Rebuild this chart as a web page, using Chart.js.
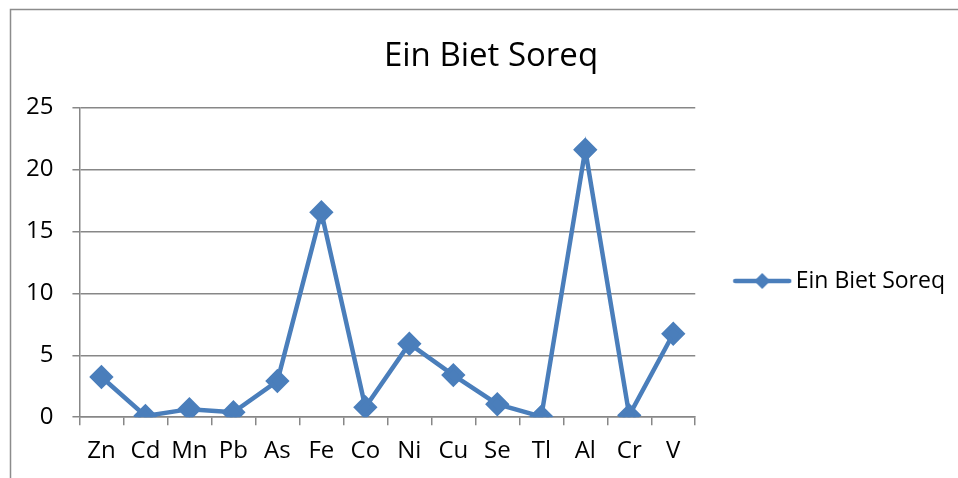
<!DOCTYPE html>
<html>
<head>
<meta charset="utf-8">
<script src="https://cdn.jsdelivr.net/npm/chart.js@4.4.1/dist/chart.umd.min.js"></script>
<style>
  html, body { margin: 0; padding: 0; background: #fff; }
  #wrap { width: 958px; height: 478px; }
</style>
</head>
<body>
<div id="wrap"><canvas id="chart" width="958" height="478"></canvas></div>
<script>
const TITLE = 'Ein Biet Soreq';
const ELEMENTS = ['Zn', 'Cd', 'Mn', 'Pb', 'As', 'Fe', 'Co', 'Ni', 'Cu', 'Se', 'Tl', 'Al', 'Cr', 'V'];
const VALUES = [3.25, 0.1, 0.65, 0.4, 2.92, 16.55, 0.8, 5.93, 3.4, 1.05, 0.05, 21.6, 0.15, 6.74];
const Y_TICKS = [0, 5, 10, 15, 20, 25];

const BLUE = '#4a7ebb';
const GRID = '#878787';
const FONT = "'Open Sans', sans-serif";

// legend symbol: short line with a diamond on it, like the office chart
const legendIcon = (() => {
  const c = document.createElement('canvas');
  c.width = 60;
  c.height = 20;
  const ctx = c.getContext('2d');
  ctx.strokeStyle = BLUE;
  ctx.lineWidth = 4.5;
  ctx.lineCap = 'round';
  ctx.beginPath();
  ctx.moveTo(3, 10);
  ctx.lineTo(57, 10);
  ctx.stroke();
  ctx.fillStyle = BLUE;
  ctx.beginPath();
  ctx.moveTo(30, 2);
  ctx.lineTo(38, 10);
  ctx.lineTo(30, 18);
  ctx.lineTo(22, 10);
  ctx.closePath();
  ctx.fill();
  return c;
})();

const framePlugin = {
  id: 'frame',
  beforeDraw(chart) {
    const ctx = chart.ctx;
    ctx.save();
    ctx.strokeStyle = '#8c8c8c';
    ctx.lineWidth = 1.5;
    ctx.beginPath();
    ctx.moveTo(10.5, chart.height);
    ctx.lineTo(10.5, 9.5);
    ctx.lineTo(chart.width, 9.5);
    ctx.stroke();
    ctx.restore();
  },
};

// nudge legend down and title right, as in the original
const nudge = {
  id: 'nudge',
  afterLayout(chart) {
    chart.legend.top += 35;
    chart.legend.bottom += 35;
    chart.titleBlock.left += 10;
    chart.titleBlock.right += 10;
  },
};

const config = {
  type: 'line',
  data: {
    labels: ELEMENTS,
    datasets: [
      {
        label: TITLE,
        data: VALUES,
        borderColor: BLUE,
        backgroundColor: BLUE,
        borderWidth: 4.5,
        pointStyle: 'rectRot',
        pointRadius: 9,
        pointHoverRadius: 9,
        pointBackgroundColor: BLUE,
        pointBorderColor: BLUE,
        tension: 0,
      },
    ],
  },
  options: {
    responsive: false,
    animation: false,
    layout: {
      padding: { left: 7, right: 3, top: 14, bottom: 0 },
    },
    scales: {
      x: {
        offset: true,
        grid: {
          offset: true,
          drawOnChartArea: false,
          drawTicks: true,
          tickLength: 8,
          color: GRID,
          lineWidth: 1.5,
        },
        border: { color: GRID, width: 1.5 },
        ticks: {
          color: '#000',
          padding: 12,
          font: { family: FONT, size: 24 },
          maxRotation: 0,
          autoSkip: false,
        },
      },
      y: {
        min: 0,
        max: 25,
        afterBuildTicks(axis) {
          axis.ticks = Y_TICKS.map((v) => ({ value: v }));
        },
        grid: {
          color: GRID,
          lineWidth: 1.5,
          tickLength: 7,
        },
        border: { color: GRID, width: 1.5 },
        ticks: {
          color: '#000',
          padding: 19,
          font: { family: FONT, size: 24 },
        },
      },
    },
    plugins: {
      title: {
        display: true,
        text: TITLE,
        color: '#000',
        font: { family: FONT, size: 33, weight: 'normal' },
        padding: { top: 23, bottom: 31 },
      },
      legend: {
        position: 'right',
        maxWidth: 264,
        labels: {
          usePointStyle: true,
          pointStyleWidth: 44,
          color: '#000',
          font: { family: FONT, size: 23 },
          padding: 45,
          generateLabels(chart) {
            return chart.data.datasets.map((ds, i) => ({
              text: ds.label,
              fillStyle: BLUE,
              strokeStyle: BLUE,
              pointStyle: legendIcon,
              datasetIndex: i,
              hidden: false,
            }));
          },
        },
      },
      tooltip: { enabled: false },
    },
  },
  plugins: [framePlugin, nudge],
};

new Chart(document.getElementById('chart'), config);
</script>
</body>
</html>
